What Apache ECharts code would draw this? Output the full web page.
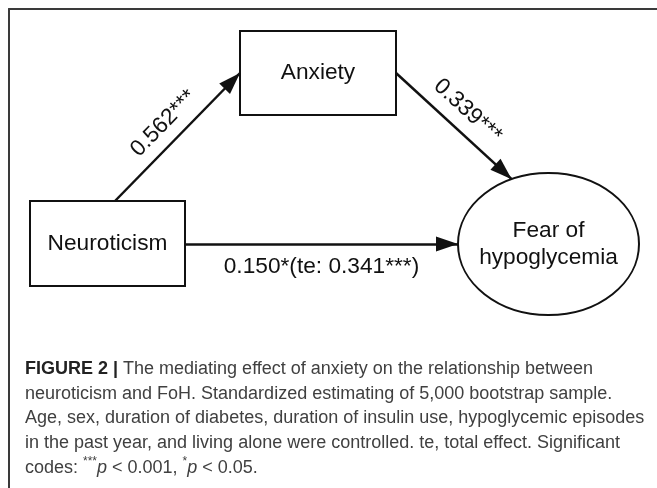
<!DOCTYPE html>
<html>
<head>
<meta charset="utf-8">
<script src="https://cdn.jsdelivr.net/npm/echarts@6/dist/echarts.min.js"></script>
<style>
html,body{margin:0;padding:0;background:#fff;}
#chart{width:657px;height:488px;}
</style>
</head>
<body>
<div id="chart"></div>
<script>
// ---------- data ----------
const nodeNames = ['Neuroticism', 'Anxiety', 'Fear of\nhypoglycemia'];
const edgeFrom = [0, 1, 0];
const edgeTo = [1, 2, 2];
const edgeLabels = ['0.562***', '0.339***', '0.150*(te: 0.341***)'];
const captionLines = [
  '{b|FIGURE 2 |} The mediating effect of anxiety on the relationship between',
  'neuroticism and FoH. Standardized estimating of 5,000 bootstrap sample.',
  'Age, sex, duration of diabetes, duration of insulin use, hypoglycemic episodes',
  'in the past year, and living alone were controlled. te, total effect. Significant',
  'codes: {sup|***}{it|p} < 0.001, {sup|*}{it|p} < 0.05.'
];

// ---------- layout (diagram space, 1 unit = 1 px) ----------
const nodeCenters = [[107.5, 243.5], [318, 73], [548.5, 244]];
const nodeSizes = [[155, 85], [156, 84], [181, 142]];
const nodeShapes = ['rect', 'rect', 'ellipse'];
const edgeAnchorFrom = [['top', 7.5], ['right', 0], ['right', 0.5]];
const edgeAnchorTo = [['left', 0], ['angle', -114], ['angle', 180]];
const edgeLabelPos = ['insideMiddleTop', 'insideMiddleTop', 'insideMiddleBottom'];
const edgeLabelDist = [8, 9, 11];

const FONT = '"Liberation Sans", Arial, Helvetica, sans-serif';
const INK = '#111';
const DIAGRAM_FS = 22.7;

function anchor(i, a) {
  const c = nodeCenters[i], s = nodeSizes[i];
  switch (a[0]) {
    case 'top': return [c[0] + a[1], c[1] - s[1] / 2];
    case 'bottom': return [c[0] + a[1], c[1] + s[1] / 2];
    case 'left': return [c[0] - s[0] / 2, c[1] + a[1]];
    case 'right': return [c[0] + s[0] / 2, c[1] + a[1]];
    default: {
      const t = a[1] * Math.PI / 180;
      return [c[0] + s[0] / 2 * Math.cos(t), c[1] + s[1] / 2 * Math.sin(t)];
    }
  }
}

// triangle arrow head whose tip sits at the symbol centre
const ARROW = 'path://M22,22 L29.5,44 L14.5,44 Z M0,0 M44,44';

const chart = echarts.init(document.getElementById('chart'), null, {renderer: 'canvas'});

const option = {
  backgroundColor: '#fff',
  animation: false,
  title: {
    left: 25,
    top: 357,
    padding: 0,
    text: captionLines.join('\n'),
    textStyle: {
      fontFamily: FONT, fontSize: 18, fontWeight: 'normal', color: '#404040', lineHeight: 24.6,
      rich: {
        b: {fontFamily: FONT, fontSize: 18, fontWeight: 'bold', color: '#222', lineHeight: 24.6},
        it: {fontFamily: FONT, fontSize: 18, fontStyle: 'italic', color: '#404040', lineHeight: 24.6},
        sup: {fontFamily: FONT, fontSize: 12, color: '#404040', lineHeight: 24.6, verticalAlign: 'top'}
      }
    }
  },
  grid: {left: 9, top: 9, right: 0, bottom: 0, containLabel: false},
  xAxis: {
    type: 'value', min: 9, max: 657, position: 'top',
    axisLine: {show: true, onZero: false, lineStyle: {color: '#3a3a3a', width: 2}},
    axisTick: {show: false}, axisLabel: {show: false}, splitLine: {show: false}
  },
  yAxis: {
    type: 'value', min: 9, max: 488, inverse: true,
    axisLine: {show: true, onZero: false, lineStyle: {color: '#3a3a3a', width: 2}},
    axisTick: {show: false}, axisLabel: {show: false}, splitLine: {show: false}
  },
  series: [
    {
      type: 'custom',
      coordinateSystem: 'cartesian2d',
      silent: true,
      z: 2,
      data: nodeNames.map((n, i) => ({name: n, value: [nodeCenters[i][0], nodeCenters[i][1], nodeSizes[i][0], nodeSizes[i][1]]})),
      renderItem: function (params, api) {
        const i = params.dataIndex;
        const c = api.coord([api.value(0), api.value(1)]);
        const s = api.size([api.value(2), api.value(3)], [api.value(0), api.value(1)]);
        const w = Math.abs(s[0]), h = Math.abs(s[1]);
        const style = {fill: '#fff', stroke: INK, lineWidth: 2};
        const body = nodeShapes[i] === 'ellipse'
          ? {type: 'ellipse', shape: {cx: c[0], cy: c[1], rx: w / 2, ry: h / 2}, style: style}
          : {type: 'rect', shape: {x: c[0] - w / 2, y: c[1] - h / 2, width: w, height: h}, style: style};
        return {
          type: 'group',
          children: [
            body,
            {type: 'text', style: {text: nodeNames[i], x: c[0], y: c[1], align: 'center', verticalAlign: 'middle',
              fontFamily: FONT, fontSize: DIAGRAM_FS, fill: INK, lineHeight: 27.5}}
          ]
        };
      }
    },
    {
      type: 'lines',
      coordinateSystem: 'cartesian2d',
      silent: true,
      z: 5,
      symbol: ['none', ARROW],
      symbolSize: 44,
      lineStyle: {color: INK, width: 2.5, opacity: 1, curveness: 0},
      label: {show: true, formatter: '{b}', fontFamily: FONT, fontSize: DIAGRAM_FS, color: INK},
      data: edgeLabels.map((lab, k) => ({
        name: lab,
        coords: [anchor(edgeFrom[k], edgeAnchorFrom[k]), anchor(edgeTo[k], edgeAnchorTo[k])],
        label: {position: edgeLabelPos[k], distance: edgeLabelDist[k]}
      }))
    }
  ]
};
chart.setOption(option);
</script>
</body>
</html>
